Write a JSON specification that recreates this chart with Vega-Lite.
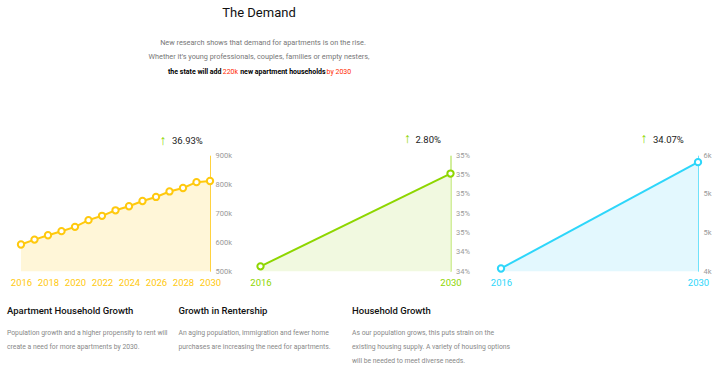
{
  "$schema": "https://vega.github.io/schema/vega-lite/v6.json",
  "background": "white",
  "padding": {"left": 7, "top": 0, "right": 0, "bottom": 0},
  "bounds": "flush",
  "spacing": 66.2,
  "config": {
    "view": {"stroke": null},
    "font": "Roboto",
    "axis": {"grid": false, "ticks": false, "labelFlush": false, "labelOverlap": false, "title": null, "labelFont": "Roboto"},
    "title": {"font": "Roboto", "subtitleFont": "Roboto"}
  },
  "datasets": {
    "header": [
      {"line": 0, "part": "title", "text": "The Demand"},
      {"line": 2, "part": "intro1", "text": "New research shows that demand for apartments is on the rise."},
      {"line": 3, "part": "intro2", "text": "Whether it’s young professionals, couples, families or empty nesters,"},
      {"line": 4, "part": "b1", "text": "the state will add"},
      {"line": 4, "part": "r1", "text": "220k"},
      {"line": 4, "part": "b2", "text": "new apartment households"},
      {"line": 4, "part": "r2", "text": "by 2030"}
    ],
    "apartments": [
      {"year": 2016, "households": 592000},
      {"year": 2017, "households": 609000},
      {"year": 2018, "households": 624000},
      {"year": 2019, "households": 638000},
      {"year": 2020, "households": 653000},
      {"year": 2021, "households": 676000},
      {"year": 2022, "households": 691000},
      {"year": 2023, "households": 710000},
      {"year": 2024, "households": 724000},
      {"year": 2025, "households": 742000},
      {"year": 2026, "households": 756000},
      {"year": 2027, "households": 775000},
      {"year": 2028, "households": 787000},
      {"year": 2029, "households": 807000},
      {"year": 2030, "households": 811000}
    ],
    "rentership": [
      {"year": 2016, "share": 0.3425},
      {"year": 2030, "share": 0.3521}
    ],
    "households": [
      {"year": 2016, "count": 4035},
      {"year": 2030, "count": 5410}
    ]
  },
  "vconcat": [
    {
      "width": 476,
      "height": 88.8,
      "data": {"name": "header"},
      "encoding": {
        "y": {"field": "line", "type": "quantitative", "scale": {"domain": [-0.88, 5.12], "reverse": true, "nice": false, "zero": false}, "axis": null},
        "text": {"field": "text"}
      },
      "layer": [
        {"transform": [{"filter": "datum.part === 'title'"}], "mark": {"type": "text", "fontSize": 13, "color": "#111111", "baseline": "middle"}},
        {"transform": [{"filter": "datum.part === 'intro1'"}], "mark": {"type": "text", "fontSize": 7.3, "color": "#777777", "baseline": "middle", "dx": 4}},
        {"transform": [{"filter": "datum.part === 'intro2'"}], "mark": {"type": "text", "fontSize": 7.3, "color": "#777777", "baseline": "middle"}},
        {"transform": [{"filter": "datum.part === 'b1'"}], "mark": {"type": "text", "fontSize": 7, "fontWeight": "bold", "color": "#000000", "baseline": "middle", "align": "left", "dx": -91}},
        {"transform": [{"filter": "datum.part === 'r1'"}], "mark": {"type": "text", "fontSize": 7, "color": "#FF2A00", "baseline": "middle", "align": "left", "dx": -36.3}},
        {"transform": [{"filter": "datum.part === 'b2'"}], "mark": {"type": "text", "fontSize": 7, "fontWeight": "bold", "color": "#000000", "baseline": "middle", "align": "left", "dx": -18.8}},
        {"transform": [{"filter": "datum.part === 'r2'"}], "mark": {"type": "text", "fontSize": 7, "color": "#FF2A00", "baseline": "middle", "align": "left", "dx": 67.5}}
      ]
    },
    {
      "hconcat": [
        {
          "width": 189,
          "height": 116,
          "title": {
            "text": "Apartment Household Growth",
            "subtitle": ["Population growth and a higher propensity to rent will", "create a need for more apartments by 2030."],
            "orient": "bottom", "anchor": "start", "frame": "group", "dx": -14, "offset": 19,
            "fontSize": 9.5, "fontWeight": 500, "color": "#111111",
            "subtitleFontSize": 6.8, "subtitleColor": "#888888", "subtitleLineHeight": 14, "subtitlePadding": 15
          },
          "data": {"name": "apartments"},
          "encoding": {
            "x": {"field": "year", "type": "quantitative", "scale": {"domain": [2016, 2030], "nice": false, "zero": false},
                  "axis": {"values": [2016, 2018, 2020, 2022, 2024, 2026, 2028, 2030], "format": "d", "domain": false, "labelColor": "#FFC90E", "labelFontSize": 9.5, "labelPadding": 6}},
            "y": {"field": "households", "type": "quantitative", "scale": {"domain": [500000, 900000], "nice": false, "zero": false},
                  "axis": {"orient": "right", "values": [500000, 600000, 700000, 800000, 900000], "format": "~s", "domainColor": "#FFD23F", "labelColor": "#999999", "labelFontSize": 7.5, "labelPadding": 5}}
          },
          "layer": [
            {"mark": {"type": "area", "color": "#FFF6D8"}, "encoding": {"y2": {"datum": 500000}}},
            {"mark": {"type": "line", "color": "#FFC90E", "strokeWidth": 2}},
            {"mark": {"type": "point", "filled": true, "fill": "white", "stroke": "#FFC90E", "strokeWidth": 2, "size": 40, "opacity": 1}},
            {"transform": [{"filter": "datum.year === 2030"}],
             "mark": {"type": "text", "fontSize": 14, "fontWeight": "bold", "color": "#8ED600", "dx": -47, "dy": -40.5, "baseline": "middle", "align": "center"},
             "encoding": {"text": {"value": "↑"}}},
            {"transform": [{"filter": "datum.year === 2030"}],
             "mark": {"type": "text", "fontSize": 9.5, "color": "#222222", "align": "left", "dx": -38, "dy": -39.7, "baseline": "middle"},
             "encoding": {"text": {"value": "36.93%"}}}
          ]
        },
        {
          "width": 190,
          "height": 116,
          "title": {
            "text": "Growth in Rentership",
            "subtitle": ["An aging population, immigration and fewer home", "purchases are increasing the need for apartments."],
            "orient": "bottom", "anchor": "start", "frame": "group", "dx": -82, "offset": 19,
            "fontSize": 9.5, "fontWeight": 500, "color": "#111111",
            "subtitleFontSize": 6.8, "subtitleColor": "#888888", "subtitleLineHeight": 14, "subtitlePadding": 15
          },
          "data": {"name": "rentership"},
          "encoding": {
            "x": {"field": "year", "type": "quantitative", "scale": {"domain": [2016, 2030], "nice": false, "zero": false},
                  "axis": {"values": [2016, 2030], "format": "d", "domain": false, "labelColor": "#8ED600", "labelFontSize": 9.5, "labelPadding": 6}},
            "y": {"field": "share", "type": "quantitative", "scale": {"domain": [0.342, 0.354], "nice": false, "zero": false},
                  "axis": {"orient": "right", "values": [0.342, 0.344, 0.346, 0.348, 0.35, 0.352, 0.354], "format": ".0%", "domainColor": "#A5DE3A", "labelColor": "#999999", "labelFontSize": 7.5, "labelPadding": 5}}
          },
          "layer": [
            {"mark": {"type": "area", "color": "#F1F9E0"}, "encoding": {"y2": {"datum": 0.342}}},
            {"mark": {"type": "line", "color": "#8ED600", "strokeWidth": 2}},
            {"mark": {"type": "point", "filled": true, "fill": "white", "stroke": "#8ED600", "strokeWidth": 2, "size": 40, "opacity": 1}},
            {"transform": [{"filter": "datum.year === 2030"}],
             "mark": {"type": "text", "fontSize": 14, "fontWeight": "bold", "color": "#8ED600", "dx": -43, "dy": -34.1, "baseline": "middle", "align": "center"},
             "encoding": {"text": {"value": "↑"}}},
            {"transform": [{"filter": "datum.year === 2030"}],
             "mark": {"type": "text", "fontSize": 9.5, "color": "#222222", "align": "left", "dx": -35, "dy": -33.3, "baseline": "middle"},
             "encoding": {"text": {"value": "2.80%"}}}
          ]
        },
        {
          "width": 197,
          "height": 116,
          "title": {
            "text": "Household Growth",
            "subtitle": ["As our population grows, this puts strain on the", "existing housing supply. A variety of housing options", "will be needed to meet diverse needs."],
            "orient": "bottom", "anchor": "start", "frame": "group", "dx": -149, "offset": 19,
            "fontSize": 9.5, "fontWeight": 500, "color": "#111111",
            "subtitleFontSize": 6.8, "subtitleColor": "#888888", "subtitleLineHeight": 14, "subtitlePadding": 15
          },
          "data": {"name": "households"},
          "encoding": {
            "x": {"field": "year", "type": "quantitative", "scale": {"domain": [2016, 2030], "nice": false, "zero": false},
                  "axis": {"values": [2016, 2030], "format": "d", "domain": false, "labelColor": "#2DD6FA", "labelFontSize": 9.5, "labelPadding": 6}},
            "y": {"field": "count", "type": "quantitative", "scale": {"domain": [4000, 5500], "nice": false, "zero": false},
                  "axis": {"orient": "right", "values": [4000, 4500, 5000, 5500], "format": ".1s", "domainColor": "#6FE2FB", "labelColor": "#999999", "labelFontSize": 7.5, "labelPadding": 5}}
          },
          "layer": [
            {"mark": {"type": "area", "color": "#E3F8FE"}, "encoding": {"y2": {"datum": 4000}}},
            {"mark": {"type": "line", "color": "#2DD6FA", "strokeWidth": 2}},
            {"mark": {"type": "point", "filled": true, "fill": "white", "stroke": "#2DD6FA", "strokeWidth": 2, "size": 40, "opacity": 1}},
            {"transform": [{"filter": "datum.year === 2030"}],
             "mark": {"type": "text", "fontSize": 14, "fontWeight": "bold", "color": "#8ED600", "dx": -54, "dy": -23.1, "baseline": "middle", "align": "center"},
             "encoding": {"text": {"value": "↑"}}},
            {"transform": [{"filter": "datum.year === 2030"}],
             "mark": {"type": "text", "fontSize": 9.5, "color": "#222222", "align": "left", "dx": -45, "dy": -22.3, "baseline": "middle"},
             "encoding": {"text": {"value": "34.07%"}}}
          ]
        }
      ],
      "spacing": 50.5,
      "bounds": "flush"
    }
  ]
}
